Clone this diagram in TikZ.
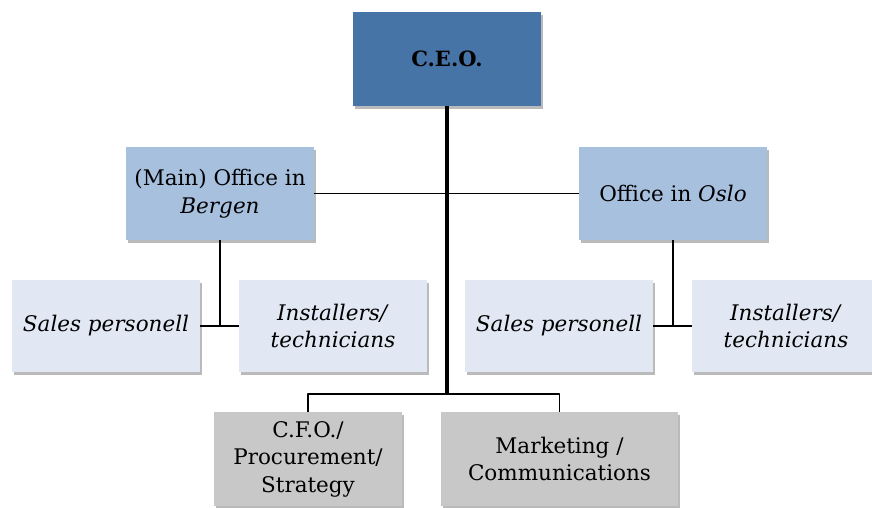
\documentclass[tikz,border=0pt]{standalone}
\usepackage{fontspec}
\setmainfont{DejaVu Serif}
\usetikzlibrary{shadows}
\definecolor{ceoblue}{RGB}{70,116,166}
\definecolor{officeblue}{RGB}{167,192,222}
\definecolor{staffblue}{RGB}{225,232,243}
\definecolor{staffgray}{RGB}{200,200,200}
\begin{document}
\begin{tikzpicture}[x=1pt, y=1pt, line join=round,
	box/.style={rectangle, minimum width=188pt, minimum height=93pt, inner sep=2pt, align=center,
		font=\fontsize{21.5}{27.5}\selectfont,
		drop shadow={shadow xshift=2pt, shadow yshift=-3pt, opacity=0.45, fill=black!60}},
	link/.style={line width=1.8pt},
	trunk/.style={line width=3.2pt}]
	\useasboundingbox (0,0) rectangle (872,507);
	\node[box, fill=ceoblue, minimum height=94pt, font=\fontsize{21}{27}\selectfont] (ceo) at (447,448) {\textbf{C.E.O.}};
	\node[box, fill=officeblue] (bergen) at (220,313.5) {(Main) Office in\\\textit{Bergen}};
	\node[box, fill=officeblue] (oslo) at (673,313.5) {Office in \textit{Oslo}};
	\node[box, fill=staffblue, minimum height=92pt] (salesB) at (106,181) {\textit{Sales personell}};
	\node[box, fill=staffblue, minimum height=92pt] (instB) at (333,181) {\textit{Installers/}\\\textit{technicians}};
	\node[box, fill=staffblue, minimum height=92pt] (salesO) at (559,181) {\textit{Sales personell}};
	\node[box, fill=staffblue, minimum height=92pt] (instO) at (786,181) {\textit{Installers/}\\\textit{technicians}};
	\node[box, fill=staffgray, minimum height=94pt] (cfo) at (308,48) {C.F.O./\\Procurement/\\Strategy};
	\node[box, fill=staffgray, minimum width=237pt, minimum height=94pt] (mkt) at (559.5,48) {Marketing /\\Communications};
	\coordinate (split) at (447,113);
	
	\draw[link] (bergen) -- (oslo);
	\draw[link] (salesB) -- (instB);
	\draw[link] (salesO) -- (instO);
	\draw[link] (bergen.south) -- (bergen.south |- salesB.east);
	\draw[link] (oslo.south) -- (oslo.south |- salesO.east);
	\draw[link] (cfo.north) |- (split) -| (mkt.north);
	%stammen fra C.E.O.
	\draw[trunk] (ceo.south) -- (split);
\end{tikzpicture}
\end{document}
